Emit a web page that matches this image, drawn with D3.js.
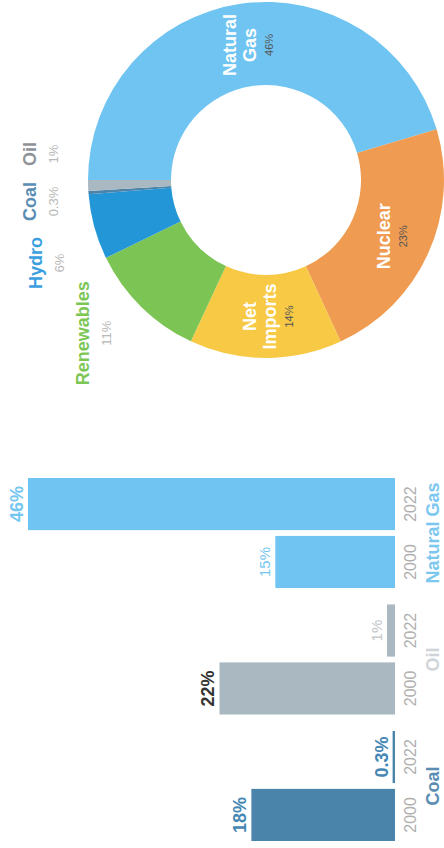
<!DOCTYPE html>
<html>
<head>
<meta charset="utf-8">
<script src="https://cdn.jsdelivr.net/npm/d3@7"></script>
<style>
  body { margin: 0; background: #fff; }
  svg { display: block; font-family: "Liberation Sans", Arial, sans-serif; }
</style>
</head>
<body>
<div id="chart"></div>
<script>
// bar chart: share of generation by fuel, 2000 vs 2022
var categories = ["Coal", "Oil", "Natural Gas"];
var years = ["2000", "2022"];
var coalShare = [18, 0.3];
var oilShare = [22, 1];
var gasShare = [15, 46];

// donut: 2022 mix
var mixSources = ["Natural Gas", "Nuclear", "Net Imports", "Renewables", "Hydro", "Coal", "Oil"];
var mixShare = [46, 23, 14, 11, 6, 0.3, 1];

var width = 444;
var height = 848;

var fuelColor = {
  "Coal": "#4a84ab",
  "Oil": "#aab8c1",
  "Natural Gas": "#6fc4f1",
  "Nuclear": "#ef9c52",
  "Net Imports": "#f7c945",
  "Renewables": "#7cc453",
  "Hydro": "#2396d8"
};
var nameColor = {
  "Coal": "#5a8db3",
  "Oil": "#8e9397",
  "Natural Gas": "#7cc7ef",
  "Renewables": "#7cc655",
  "Hydro": "#3a9ee0"
};

var svg = d3.select("#chart").append("svg")
    .attr("width", width)
    .attr("height", height);

// the whole picture is turned a quarter to the left
var g = svg.append("g")
    .attr("transform", "translate(0," + height + ")rotate(-90)");

// ---------- bars ----------
var shares = [coalShare, oilShare, gasShare];
var bars = [];
categories.forEach(function(c, i) {
  years.forEach(function(yr, j) {
    bars.push({cat: c, year: yr, value: shares[i][j], top: d3.max(shares[i]) === shares[i][j]});
  });
});

var x0 = d3.scaleBand().domain(categories).range([7, 370]).paddingInner(0.13);
var x1 = d3.scaleBand().domain(years).range([0, x0.bandwidth()]).paddingInner(0.1);
var y = d3.scaleLinear().domain([0, 46]).range([395, 28]);

var groups = g.selectAll("g.cat")
    .data(categories)
    .enter().append("g")
    .attr("class", "cat")
    .attr("transform", function(d) { return "translate(" + x0(d) + ",0)"; });

groups.selectAll("rect")
    .data(function(c) { return bars.filter(function(b) { return b.cat === c; }); })
    .enter().append("rect")
    .attr("x", function(d) { return x1(d.year); })
    .attr("y", function(d) { return y(d.value); })
    .attr("width", x1.bandwidth())
    .attr("height", function(d) { return y(0) - y(d.value); })
    .style("fill", function(d) { return fuelColor[d.cat]; });

function barLabelColor(d) {
  if (d.cat === "Coal") return "#4587b4";
  if (d.cat === "Oil") return d.top ? "#333" : "#bfc5c9";
  return "#74c6f0";
}
function barLabelBold(d) {
  return d.cat === "Coal" || d.top;
}

groups.selectAll("text.val")
    .data(function(c) { return bars.filter(function(b) { return b.cat === c; }); })
    .enter().append("text")
    .attr("class", "val")
    .attr("x", function(d) { return x1(d.year) + x1.bandwidth() / 2; })
    .attr("y", function(d) { return y(d.value) - 5; })
    .attr("text-anchor", "middle")
    .style("font-size", function(d) { return barLabelBold(d) ? "18px" : "15px"; })
    .style("font-weight", function(d) { return barLabelBold(d) ? "bold" : "normal"; })
    .style("fill", barLabelColor)
    .text(function(d) { return d.value + "%"; });

// year ticks under each group
groups.append("g")
    .attr("transform", "translate(0," + y(0) + ")")
    .call(d3.axisBottom(x1).tickSize(0).tickPadding(10))
    .call(function(a) { a.select(".domain").remove(); })
    .selectAll("text")
    .style("font-size", "16px")
    .style("font-family", "inherit")
    .style("fill", "#afafaf");

// category names
var catAxis = g.append("g")
    .attr("transform", "translate(0," + y(0) + ")")
    .call(d3.axisBottom(x0).tickSize(0).tickPadding(31));
catAxis.select(".domain").remove();
catAxis.selectAll("text")
    .style("font-size", "18px")
    .style("font-weight", "bold")
    .style("font-family", "inherit")
    .style("fill", function(d) { return d === "Oil" ? "#cfd4d8" : nameColor[d]; });

// ---------- donut ----------
var cu = 668, cv = 266;
var rOuter = 178, rInner = 95;

var mix = mixSources.map(function(s, i) { return {name: s, value: mixShare[i]}; });
var pie = d3.pie().sort(null).value(function(d) { return d.value; });
var arcs = pie(mix);
var arc = d3.arc().innerRadius(rInner).outerRadius(rOuter);

var donut = g.append("g").attr("transform", "translate(" + cu + "," + cv + ")");

donut.selectAll("path")
    .data(arcs)
    .enter().append("path")
    .attr("d", arc)
    .style("fill", function(d) { return fuelColor[d.data.name]; });

// labels inside the ring for the big slices
var inside = arcs.filter(function(d) { return d.data.value >= 14; });
inside.forEach(function(d) {
  var c = arc.centroid(d);
  var words = d.data.name.split(" ");
  var total = 13 + 20 * (words.length - 1) + 17;
  var first = c[1] - total / 2 + 15;
  var t = donut.append("g");
  words.forEach(function(w, k) {
    t.append("text")
      .attr("x", c[0]).attr("y", first + k * 20)
      .attr("text-anchor", "middle")
      .style("font-size", "18px")
      .style("font-weight", "bold")
      .style("fill", "#fff")
      .text(w);
  });
  t.append("text")
    .attr("x", c[0]).attr("y", first + (words.length - 1) * 20 + 17)
    .attr("text-anchor", "middle")
    .style("font-size", "11px")
    .style("fill", "#555")
    .text(d.data.value + "%");
});

// labels outside for the small slices, spread so they do not collide
var outside = arcs.filter(function(d) { return d.data.value < 14; }).map(function(d) {
  var a = (d.startAngle + d.endAngle) / 2;
  return {d: d, u: 215 * Math.sin(a), v: -rOuter * Math.cos(a) - 52};
});
outside.forEach(function(o) {
  o.g = donut.append("g");
  o.name = o.g.append("text")
    .attr("text-anchor", "middle")
    .style("font-size", "18px")
    .style("font-weight", "bold")
    .style("fill", nameColor[o.d.data.name])
    .text(o.d.data.name);
  o.val = o.g.append("text")
    .attr("text-anchor", "middle")
    .style("font-size", "13px")
    .style("fill", "#b8b8b8")
    .text(o.d.data.value + "%");
  o.w = Math.max(o.name.node().getComputedTextLength(), o.val.node().getComputedTextLength());
  o.u0 = o.u;
});
outside.sort(function(a, b) { return a.u - b.u; });

var gap = 16;
var clusters = outside.map(function(o) { return [o]; });
var merged = true;
while (merged) {
  merged = false;
  for (var i = 1; i < clusters.length; i++) {
    var a = clusters[i - 1], b = clusters[i];
    var aLast = a[a.length - 1], bFirst = b[0];
    var sameRow = Math.abs(aLast.v - bFirst.v) < 30;
    if (sameRow && aLast.u + aLast.w / 2 + gap > bFirst.u - bFirst.w / 2) {
      var all = a.concat(b);
      var pos = 0;
      all.forEach(function(o) { o.u = pos + o.w / 2; pos += o.w + gap; });
      // keep the cluster's mean where the slices' mean is
      var shift = d3.mean(all, function(o) { return o.u0; }) - d3.mean(all, function(o) { return o.u; });
      all.forEach(function(o) { o.u += shift; });
      clusters.splice(i - 1, 2, all);
      merged = true;
      break;
    }
  }
}

outside.forEach(function(o) {
  o.name.attr("x", o.u).attr("y", o.v);
  o.val.attr("x", o.u).attr("y", o.v + 22);
});
</script>
</body>
</html>
